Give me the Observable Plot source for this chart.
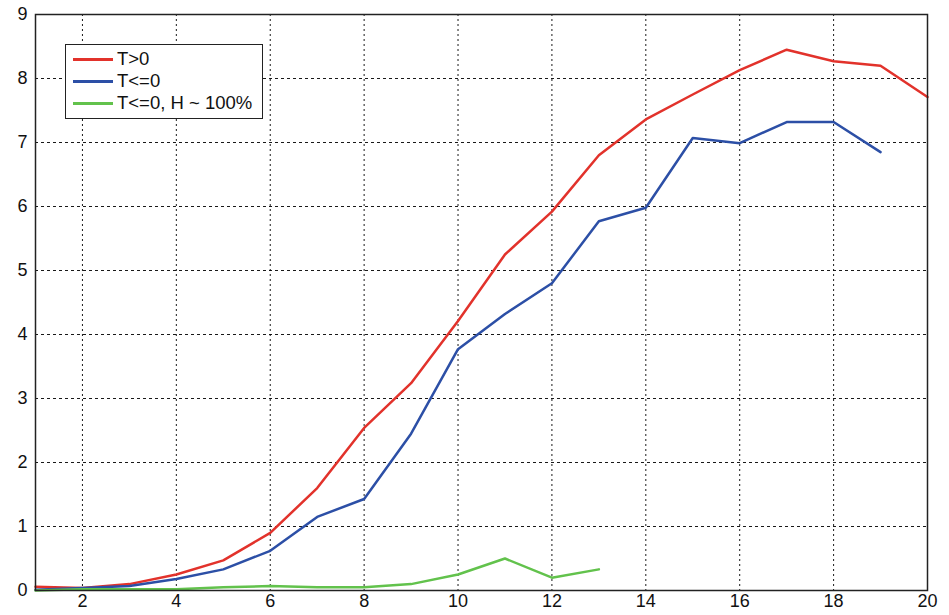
<!DOCTYPE html>
<html>
<head>
<meta charset="utf-8">
<script src="https://cdn.jsdelivr.net/npm/d3@7"></script>
<script src="https://cdn.jsdelivr.net/npm/@observablehq/plot@0.6"></script>
<style>
  html, body { margin: 0; padding: 0; background: #fff; }
  #wrap { position: relative; width: 949px; height: 615px; }
  #wrap svg text { font-family: "Liberation Sans", Arial, sans-serif !important; font-size: 18px !important; fill: #111; }
  #legend {
    position: absolute; left: 65px; top: 44px; width: 198px; height: 75px;
    border: 1.5px solid #222; background: #fff; box-sizing: border-box;
    font-family: "Liberation Sans", Arial, sans-serif; font-size: 18.5px; color: #111;
    padding-top: 3px;
  }
  .row { display: flex; align-items: center; height: 22px; }
  .sw { width: 40px; height: 3px; margin-left: 7px; margin-right: 4px; }
</style>
</head>
<body>
<div id="wrap"></div>
<script>
const xs = [1,2,3,4,5,6,7,8,9,10,11,12,13,14,15,16,17,18,19,20];
const redVals   = [0.06,0.04,0.10,0.25,0.47,0.90,1.60,2.54,3.24,4.21,5.25,5.92,6.80,7.36,7.75,8.13,8.45,8.27,8.20,7.71];
const blueVals  = [0.01,0.04,0.07,0.18,0.33,0.62,1.15,1.43,2.45,3.77,4.32,4.80,5.77,5.98,7.07,6.99,7.32,7.32,6.85];
const greenVals = [0.00,0.02,0.02,0.02,0.05,0.07,0.05,0.05,0.10,0.25,0.50,0.20,0.33];
const seriesNames = ["T>0", "T<=0", "T<=0, H ~ 100%"];
const colors = ["#e2322b", "#2c4fa6", "#62c24c"];
const xTicks = [2,4,6,8,10,12,14,16,18,20];
const yTicks = [0,1,2,3,4,5,6,7,8,9];

const allVals = [redVals, blueVals, greenVals];
const data = [];
allVals.forEach((vals, s) => vals.forEach((v, i) => data.push({x: xs[i], y: v, s: seriesNames[s]})));

const chart = Plot.plot({
  width: 949, height: 615,
  marginLeft: 35, marginTop: 14, marginRight: 22, marginBottom: 25,
  style: {background: "#fff"},
  x: {domain: [1, 20]},
  y: {domain: [0, 9]},
  color: {domain: seriesNames, range: colors},
  marks: [
    Plot.gridX(xTicks, {stroke: "#000", strokeOpacity: 0.9, strokeDasharray: "2,3", strokeWidth: 1}),
    Plot.gridY(yTicks, {stroke: "#000", strokeOpacity: 0.9, strokeDasharray: "3,3", strokeWidth: 1}),
    Plot.axisX(xTicks, {tickSize: 0, tickPadding: 4, tickFormat: d3.format("d"), label: null}),
    Plot.axisY(yTicks, {tickSize: 0, tickPadding: 8, tickFormat: d3.format("d"), label: null}),
    Plot.lineY(data, {x: "x", y: "y", stroke: "s", z: "s", strokeWidth: 2.5}),
    Plot.frame({stroke: "#222", strokeWidth: 1.5})
  ]
});
const wrap = document.getElementById("wrap");
wrap.appendChild(chart);

const legend = document.createElement("div");
legend.id = "legend";
seriesNames.forEach((n, i) => {
  const r = document.createElement("div");
  r.className = "row";
  const sw = document.createElement("div");
  sw.className = "sw";
  sw.style.background = colors[i];
  const t = document.createElement("span");
  t.textContent = n;
  r.appendChild(sw); r.appendChild(t);
  legend.appendChild(r);
});
wrap.appendChild(legend);
</script>
</body>
</html>
